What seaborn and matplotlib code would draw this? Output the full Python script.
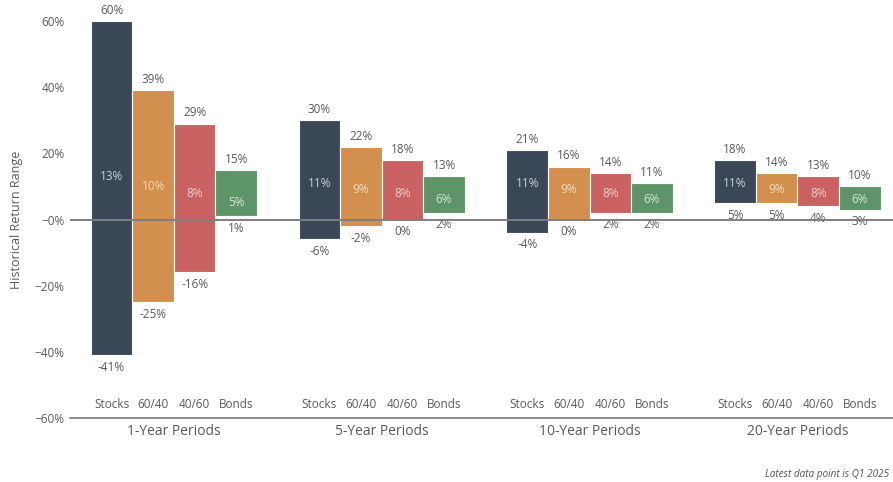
import matplotlib
matplotlib.use("Agg")
import matplotlib.pyplot as plt
import seaborn as sns
import pandas as pd
import numpy as np

# ---- data ----
groups = ["1-Year Periods", "5-Year Periods", "10-Year Periods", "20-Year Periods"]
categories = ["Stocks", "60/40", "40/60", "Bonds"]
max_vals = [[60, 39, 29, 15], [30, 22, 18, 13], [21, 16, 14, 11], [18, 14, 13, 10]]
med_vals = [[13, 10, 8, 5], [11, 9, 8, 6], [11, 9, 8, 6], [11, 9, 8, 6]]
min_vals = [[-41, -25, -16, 1], [-6, -2, 0, 2], [-4, 0, 2, 2], [5, 5, 4, 3]]
ytick_vals = [60, 40, 20, 0, -20, -40, -60]
ytick_labels = ["60%", "40%", "20%", "\u22120%", "\u221220%", "\u221240%", "\u221260%"]
footnote = "Latest data point is Q1 2025"

colors = {"Stocks": "#3a4756", "60/40": "#d38f4d", "40/60": "#cb6262", "Bonds": "#5e9568"}
med_colors = {"Stocks": "#c9d0d8", "60/40": "#f6dcbc", "40/60": "#f4cccc", "Bonds": "#d3e8d6"}

rows = []
for gi, g in enumerate(groups):
    for ci, c in enumerate(categories):
        rows.append(dict(group=g, cat=c, pos=gi * 5 + ci,
                         hi=max_vals[gi][ci], med=med_vals[gi][ci], lo=min_vals[gi][ci]))
df = pd.DataFrame(rows)

sns.set_theme(style="white")
plt.rcParams["font.family"] = ["Open Sans", "DejaVu Sans"]
text_color = "#5a5a5a"

fig = plt.figure(figsize=(8.93, 4.82), dpi=100)
ax = fig.add_axes([70 / 893, 1 - 418 / 482, 1 - 70 / 893, (418 - 21) / 482])

sns.barplot(data=df, x="pos", y="hi", hue="cat", palette=colors, native_scale=True,
            dodge=False, width=1.0, legend=False, ax=ax, edgecolor="white", linewidth=0.8,
            errorbar=None, saturation=1)

# turn bars into floating range bars
for p in ax.patches:
    cx = p.get_x() + p.get_width() / 2
    row = df.iloc[(df["pos"] - cx).abs().argmin()]
    p.set_y(row["lo"])
    p.set_height(row["hi"] - row["lo"])
    p.set_zorder(2)

for _, r in df.iterrows():
    ax.annotate(f"{r['hi']}%", (r["pos"], r["hi"]), xytext=(0, 3), textcoords="offset points",
                ha="center", va="bottom", fontsize=8.5, color=text_color)
    ax.text(r["pos"], r["med"], f"{r['med']}%", ha="center", va="center", fontsize=8.5,
            color=med_colors[r["cat"]], zorder=4)
    ax.annotate(f"{r['lo']}%", (r["pos"], r["lo"]), xytext=(0, -4), textcoords="offset points",
                ha="center", va="top", fontsize=8.5, color=text_color)
    ax.text(r["pos"], -56, r["cat"], ha="center", va="center", fontsize=8.5, color=text_color)

for gi, g in enumerate(groups):
    ax.text(gi * 5 + 1.5, -64, g, ha="center", va="center", fontsize=10, color=text_color,
            clip_on=False)

ax.axhline(0, color="#7f7f7f", lw=1.4, zorder=3)
ax.axhline(-60, color="#8a8a8a", lw=1.4, zorder=3, clip_on=False)

ax.set_xlim(-1.0, 18.8)
ax.set_ylim(-60, 60)
ax.set_yticks(ytick_vals)
ax.set_yticklabels(ytick_labels)
ax.set_xticks([])
ax.set_xlabel("")
ax.set_ylabel("Historical Return Range", fontsize=9, color=text_color, labelpad=8)
ax.tick_params(axis="y", length=0, labelsize=8.5, labelcolor=text_color, pad=4)
for s in ax.spines.values():
    s.set_visible(False)

fig.text(889 / 893, 1 - 474 / 482, footnote, fontsize=7.2, style="italic", color="#555555",
         ha="right", va="center")

fig.savefig("out.png", dpi=100)
